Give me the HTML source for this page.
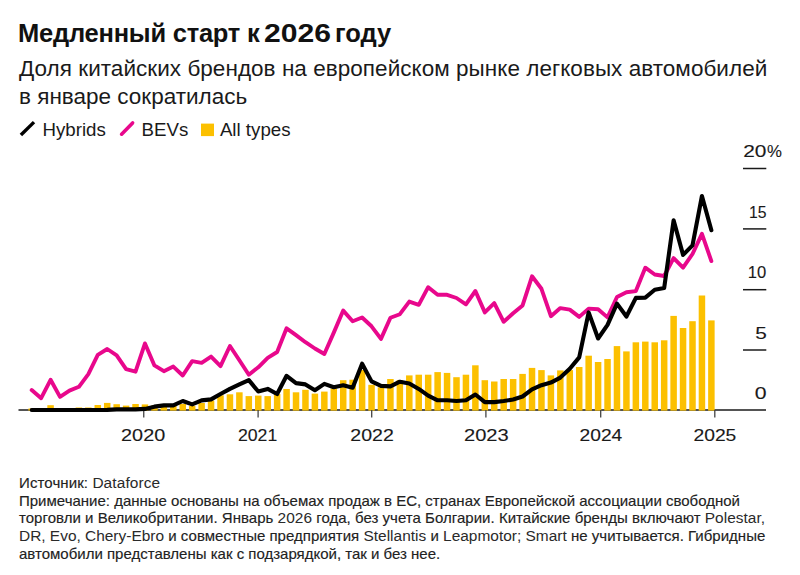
<!DOCTYPE html>
<html lang="ru"><head><meta charset="utf-8">
<style>
html,body{margin:0;padding:0;background:#fff;}
body{width:800px;height:575px;position:relative;overflow:hidden;font-family:"Liberation Sans",Arial,sans-serif;color:#111;}
.chart{position:absolute;left:0;top:0;}
.ax{font-family:"Liberation Sans",Arial,sans-serif;font-size:17px;fill:#1a1a1a;stroke:#1a1a1a;stroke-width:0.12px;}
.t{position:absolute;left:20px;white-space:nowrap;}
#title{top:18px;font-weight:bold;font-size:25.5px;line-height:30px;color:#111;}
.sub{font-size:22.5px;line-height:29.6px;color:#1a1a1a;}
#legend{top:118.6px;left:20px;font-size:18.7px;line-height:22px;color:#1a1a1a;}
#legend span.item{display:inline-block;position:relative;}
.la{font-size:15.45px;-webkit-text-stroke:0;color:#2a2a2a;}
.note{left:19px;font-size:15px;line-height:17.7px;color:#222;-webkit-text-stroke:0.15px #222;}
</style></head>
<body>
<div class="t" id="title" style="left:18px"><span style="letter-spacing:-0.23px">Медленный старт к</span> <span style="display:inline-block;transform:scaleX(1.18);transform-origin:0 0;margin-left:-3px;margin-right:7.5px">2026</span> году</div>
<div class="t sub" style="top:53.6px;left:19px;letter-spacing:0.04px">Доля китайских брендов на европейском рынке легковых автомобилей</div>
<div class="t sub" style="top:82.2px;left:19px">в январе сократилась</div>
<div class="t" id="legend">
<svg width="280" height="24" style="position:absolute;left:-20px;top:0">
<line x1="20.9" y1="16.0" x2="34.0" y2="3.1" stroke="#000" stroke-width="3.4"/>
<line x1="121.6" y1="15.2" x2="132.6" y2="3.9" stroke="#E8088C" stroke-width="3.6" stroke-linecap="round"/>
<rect x="201" y="4.6" width="13" height="12.5" fill="#FCC000"/>
</svg>
<span style="position:absolute;left:22.5px;top:0">Hybrids</span>
<span style="position:absolute;left:121.5px;top:0">BEVs</span>
<span style="position:absolute;left:199.9px;top:0">All types</span>
</div>
<div class="t note" style="top:473.9px;letter-spacing:0.1px">Источник: <span class="la">Dataforce</span></div>
<div class="t note" style="top:491.6px">Примечание: данные основаны на объемах продаж в ЕС, странах Европейской ассоциации свободной</div>
<div class="t note" style="top:509.3px;letter-spacing:0.026px">торговли и Великобритании. Январь <span class="la">2026</span> года, без учета Болгарии. Китайские бренды включают <span class="la">Polestar,</span></div>
<div class="t note" style="top:527px;letter-spacing:0.018px"><span class="la">DR,</span> <span class="la">Evo,</span> <span class="la">Chery-Ebro</span> и совместные предприятия <span class="la">Stellantis</span> и <span class="la">Leapmotor;</span> <span class="la">Smart</span> не учитывается. Гибридные</div>
<div class="t note" style="top:544.7px">автомобили представлены как с подзарядкой, так и без нее.</div>
<svg class="chart" width="800" height="575" viewBox="0 0 800 575">
<line x1="18.5" y1="410" x2="766" y2="410" stroke="#1a1a1a" stroke-width="1.6"/>
<g fill="#FCC000"><rect x="28.45" y="408.50" width="6.5" height="2.10"/><rect x="37.89" y="410.00" width="6.5" height="0.60"/><rect x="47.33" y="405.20" width="6.5" height="5.40"/><rect x="56.77" y="410.00" width="6.5" height="0.60"/><rect x="66.21" y="410.00" width="6.5" height="0.60"/><rect x="75.65" y="407.50" width="6.5" height="3.10"/><rect x="85.09" y="407.50" width="6.5" height="3.10"/><rect x="94.53" y="405.00" width="6.5" height="5.60"/><rect x="103.97" y="402.90" width="6.5" height="7.70"/><rect x="113.41" y="404.20" width="6.5" height="6.40"/><rect x="122.85" y="405.60" width="6.5" height="5.00"/><rect x="132.29" y="404.00" width="6.5" height="6.60"/><rect x="141.73" y="404.40" width="6.5" height="6.20"/><rect x="151.17" y="405.50" width="6.5" height="5.10"/><rect x="160.61" y="405.50" width="6.5" height="5.10"/><rect x="170.05" y="405.50" width="6.5" height="5.10"/><rect x="179.49" y="404.00" width="6.5" height="6.60"/><rect x="188.93" y="406.00" width="6.5" height="4.60"/><rect x="198.37" y="403.00" width="6.5" height="7.60"/><rect x="207.81" y="400.60" width="6.5" height="10.00"/><rect x="217.25" y="395.30" width="6.5" height="15.30"/><rect x="226.69" y="394.30" width="6.5" height="16.30"/><rect x="236.13" y="392.30" width="6.5" height="18.30"/><rect x="245.57" y="396.10" width="6.5" height="14.50"/><rect x="255.01" y="395.60" width="6.5" height="15.00"/><rect x="264.45" y="396.10" width="6.5" height="14.50"/><rect x="273.89" y="394.10" width="6.5" height="16.50"/><rect x="283.33" y="389.00" width="6.5" height="21.60"/><rect x="292.77" y="392.30" width="6.5" height="18.30"/><rect x="302.21" y="389.80" width="6.5" height="20.80"/><rect x="311.65" y="393.60" width="6.5" height="17.00"/><rect x="321.09" y="391.60" width="6.5" height="19.00"/><rect x="330.53" y="388.50" width="6.5" height="22.10"/><rect x="339.97" y="380.20" width="6.5" height="30.40"/><rect x="349.41" y="379.70" width="6.5" height="30.90"/><rect x="358.85" y="370.00" width="6.5" height="40.60"/><rect x="368.29" y="384.80" width="6.5" height="25.80"/><rect x="377.73" y="387.30" width="6.5" height="23.30"/><rect x="387.17" y="379.00" width="6.5" height="31.60"/><rect x="396.61" y="380.20" width="6.5" height="30.40"/><rect x="406.05" y="375.40" width="6.5" height="35.20"/><rect x="415.49" y="374.70" width="6.5" height="35.90"/><rect x="424.93" y="374.70" width="6.5" height="35.90"/><rect x="434.37" y="372.10" width="6.5" height="38.50"/><rect x="443.81" y="372.90" width="6.5" height="37.70"/><rect x="453.25" y="377.20" width="6.5" height="33.40"/><rect x="462.69" y="374.70" width="6.5" height="35.90"/><rect x="472.13" y="365.30" width="6.5" height="45.30"/><rect x="481.57" y="380.20" width="6.5" height="30.40"/><rect x="491.01" y="381.50" width="6.5" height="29.10"/><rect x="500.45" y="379.00" width="6.5" height="31.60"/><rect x="509.89" y="379.00" width="6.5" height="31.60"/><rect x="519.33" y="373.90" width="6.5" height="36.70"/><rect x="528.77" y="367.90" width="6.5" height="42.70"/><rect x="538.21" y="370.10" width="6.5" height="40.50"/><rect x="547.65" y="375.40" width="6.5" height="35.20"/><rect x="557.09" y="370.40" width="6.5" height="40.20"/><rect x="566.53" y="370.10" width="6.5" height="40.50"/><rect x="575.97" y="367.00" width="6.5" height="43.60"/><rect x="585.41" y="355.70" width="6.5" height="54.90"/><rect x="594.85" y="362.00" width="6.5" height="48.60"/><rect x="604.29" y="359.00" width="6.5" height="51.60"/><rect x="613.73" y="346.10" width="6.5" height="64.50"/><rect x="623.17" y="351.40" width="6.5" height="59.20"/><rect x="632.61" y="342.30" width="6.5" height="68.30"/><rect x="642.05" y="341.60" width="6.5" height="69.00"/><rect x="651.49" y="342.30" width="6.5" height="68.30"/><rect x="660.93" y="340.30" width="6.5" height="70.30"/><rect x="670.37" y="315.90" width="6.5" height="94.70"/><rect x="679.81" y="328.00" width="6.5" height="82.60"/><rect x="689.25" y="321.20" width="6.5" height="89.40"/><rect x="698.69" y="295.50" width="6.5" height="115.10"/><rect x="708.13" y="320.40" width="6.5" height="90.20"/></g>
<line x1="743" y1="168.5" x2="766.3" y2="168.5" stroke="#1a1a1a" stroke-width="1.5"/>
<line x1="743" y1="228.9" x2="766.3" y2="228.9" stroke="#1a1a1a" stroke-width="1.5"/>
<line x1="743" y1="289.7" x2="766.3" y2="289.7" stroke="#1a1a1a" stroke-width="1.5"/>
<line x1="743" y1="350" x2="766.3" y2="350" stroke="#1a1a1a" stroke-width="1.5"/>
<line x1="143.75" y1="410" x2="143.75" y2="417.5" stroke="#444" stroke-width="1.3"/>
<line x1="258.1" y1="410" x2="258.1" y2="417.5" stroke="#444" stroke-width="1.3"/>
<line x1="371.7" y1="410" x2="371.7" y2="417.5" stroke="#444" stroke-width="1.3"/>
<line x1="485.9" y1="410" x2="485.9" y2="417.5" stroke="#444" stroke-width="1.3"/>
<line x1="600.7" y1="410" x2="600.7" y2="417.5" stroke="#444" stroke-width="1.3"/>
<line x1="714.8" y1="410" x2="714.8" y2="417.5" stroke="#444" stroke-width="1.3"/>
<polyline points="31.70,390.10 41.14,398.20 50.58,379.80 60.02,396.90 69.46,390.60 78.90,386.80 88.34,374.20 97.78,354.80 107.22,349.00 116.66,355.30 126.10,369.20 135.54,371.70 144.98,343.40 154.42,365.40 163.86,371.20 173.30,366.60 182.74,375.50 192.18,361.10 201.62,362.80 211.06,356.60 220.50,366.10 229.94,346.00 239.38,360.30 248.82,374.70 258.26,367.30 267.70,357.80 277.14,352.00 286.58,328.30 296.02,335.10 305.46,342.20 314.90,348.50 324.34,354.00 333.78,332.60 343.22,310.60 352.66,321.20 362.10,317.50 371.54,326.30 380.98,338.90 390.42,317.80 399.86,314.20 409.30,301.60 418.74,304.80 428.18,287.20 437.62,294.80 447.06,294.80 456.50,298.00 465.94,304.30 475.38,291.00 484.82,312.40 494.26,303.10 503.70,321.80 513.14,313.20 522.58,305.40 532.02,276.30 541.46,288.80 550.90,316.20 560.34,308.10 569.78,309.60 579.22,316.90 588.66,308.60 598.10,309.20 607.54,317.40 616.98,297.00 626.42,292.30 635.86,291.10 645.30,267.70 654.74,274.50 664.18,276.00 673.62,258.10 683.06,267.70 692.50,254.00 701.94,233.80 711.38,261.10" fill="none" stroke="#E8088C" stroke-width="3.9" stroke-linejoin="round" stroke-linecap="round"/>
<polyline points="31.70,410.00 41.14,410.00 50.58,410.00 60.02,410.00 69.46,410.00 78.90,410.00 88.34,410.00 97.78,410.00 107.22,409.90 116.66,409.40 126.10,409.40 135.54,409.40 144.98,408.90 154.42,406.65 163.86,405.40 173.30,405.40 182.74,401.00 192.18,404.40 201.62,400.40 211.06,399.40 220.50,394.00 229.94,388.90 239.38,384.40 248.82,380.10 258.26,391.50 267.70,388.90 277.14,394.00 286.58,375.80 296.02,383.10 305.46,384.40 314.90,390.20 324.34,383.90 333.78,387.20 343.22,385.20 352.66,387.70 362.10,363.70 371.54,381.40 380.98,385.90 390.42,386.40 399.86,381.70 409.30,383.40 418.74,388.90 428.18,395.70 437.62,400.30 447.06,400.30 456.50,401.00 465.94,400.30 475.38,394.50 484.82,402.10 494.26,402.10 503.70,401.00 513.14,399.50 522.58,396.50 532.02,389.40 541.46,385.20 550.90,382.60 560.34,377.60 569.78,368.80 579.22,357.40 588.66,312.40 598.10,338.50 607.54,324.90 616.98,303.60 626.42,316.50 635.86,297.90 645.30,297.60 654.74,289.70 664.18,288.00 673.62,220.20 683.06,254.90 692.50,245.40 701.94,196.00 711.38,230.20" fill="none" stroke="#000" stroke-width="4.1" stroke-linejoin="round" stroke-linecap="round"/>
<text x="743.26" y="157.20" class="ax" textLength="23.22" lengthAdjust="spacingAndGlyphs">20</text>
<text x="766.93" y="157.20" class="ax" textLength="14.93" lengthAdjust="spacingAndGlyphs">%</text>
<text x="749.04" y="217.60" class="ax" textLength="17.53" lengthAdjust="spacingAndGlyphs">15</text>
<text x="747.87" y="278.40" class="ax" textLength="18.46" lengthAdjust="spacingAndGlyphs">10</text>
<text x="755.17" y="338.70" class="ax" textLength="11.60" lengthAdjust="spacingAndGlyphs">5</text>
<text x="754.75" y="398.90" class="ax" textLength="11.82" lengthAdjust="spacingAndGlyphs">0</text>
<text x="121.11" y="440.80" class="ax" textLength="44.07" lengthAdjust="spacingAndGlyphs">2020</text>
<text x="237.97" y="440.80" class="ax" textLength="39.32" lengthAdjust="spacingAndGlyphs">2021</text>
<text x="350.32" y="440.80" class="ax" textLength="43.44" lengthAdjust="spacingAndGlyphs">2022</text>
<text x="464.00" y="440.80" class="ax" textLength="44.70" lengthAdjust="spacingAndGlyphs">2023</text>
<text x="579.54" y="440.80" class="ax" textLength="42.73" lengthAdjust="spacingAndGlyphs">2024</text>
<text x="693.44" y="440.80" class="ax" textLength="42.92" lengthAdjust="spacingAndGlyphs">2025</text>
</svg>
</body></html>
